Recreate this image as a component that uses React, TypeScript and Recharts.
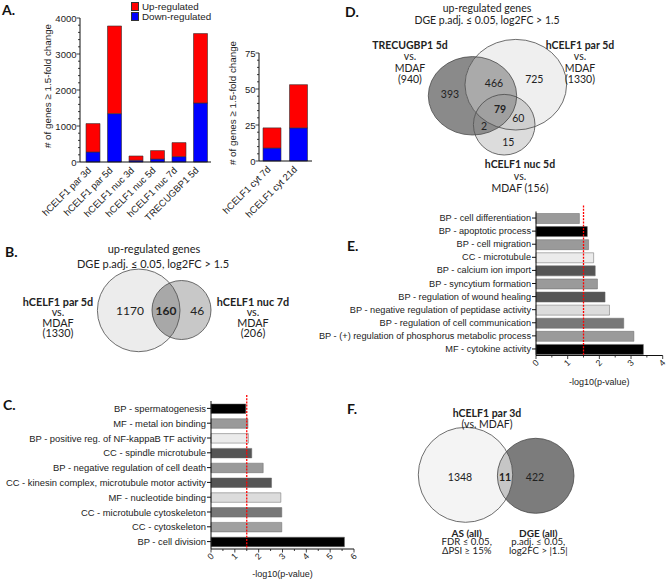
import React from 'react';
import { Bar, BarChart, Cell, Legend, ReferenceLine, Scatter, ScatterChart, XAxis, YAxis } from 'recharts';

const AXIS_FONT = '"Liberation Sans", Arial, sans-serif';
const VENN_FONT = 'Lato, "Open Sans", sans-serif';

// ---- Panel A data ----
const mainSamples = ['hCELF1 par 3d', 'hCELF1 par 5d', 'hCELF1 nuc 3d', 'hCELF1 nuc 5d', 'hCELF1 nuc 7d', 'TRECUGBP1 5d'];
const mainDown = [278, 1344, 47, 83, 150, 1639];
const mainUp = [789, 2434, 120, 234, 389, 1928];
const mainTicks = [0, 200, 400, 600, 800, 1000, 1200, 1400, 1600, 1800, 2000, 2200, 2400, 2600, 2800, 3000, 3200, 3400, 3600, 3800, 4000];

const cytSamples = ['hCELF1 cyt 7d', 'hCELF1 cyt 21d'];
const cytDown = [9, 23];
const cytUp = [14, 30];
const cytTicks = [0, 5, 10, 15, 20, 25, 30, 35, 40, 45, 50, 55, 60, 65, 70, 75];

const legendLabels = ['Up-regulated', 'Down-regulated'];

// ---- Panel C data ----
const cTerms = [
  'BP - spermatogenesis',
  'MF - metal ion binding',
  'BP - positive reg. of NF-kappaB TF activity',
  'CC - spindle microtubule',
  'BP - negative regulation of cell death',
  'CC - kinesin complex, microtubule motor activity',
  'MF - nucleotide binding',
  'CC - microtubule cytoskeleton',
  'CC - cytoskeleton',
  'BP - cell division',
];
const cValues = [1.46, 1.55, 1.57, 1.71, 2.19, 2.54, 2.93, 2.97, 2.97, 5.6];
const cColors = ['#000000', '#9a9a9a', '#ebebeb', '#555555', '#9a9a9a', '#555555', '#dcdcdc', '#787878', '#a0a0a0', '#000000'];
const cTicks = [0, 0.5, 1, 1.5, 2, 2.5, 3, 3.5, 4, 4.5, 5, 5.5, 6];

// ---- Panel E data ----
const eTerms = [
  'BP - cell differentiation',
  'BP - apoptotic process',
  'BP - cell migration',
  'CC - microtubule',
  'BP - calcium ion import',
  'BP - syncytium formation',
  'BP - regulation of wound healing',
  'BP - negative regulation of peptidase activity',
  'BP - regulation of cell communication',
  'BP - (+) regulation of phosphorus metabolic process',
  'MF - cytokine activity',
];
const eValues = [1.37, 1.62, 1.66, 1.82, 1.87, 1.94, 2.18, 2.32, 2.77, 3.09, 3.39];
const eColors = ['#9a9a9a', '#000000', '#9a9a9a', '#ebebeb', '#555555', '#9a9a9a', '#555555', '#dcdcdc', '#787878', '#9a9a9a', '#000000'];
const eTicks = [0, 0.5, 1, 1.5, 2, 2.5, 3, 3.5, 4];

const pThreshold = 1.5;

// ---- Venn data ----
const vennBSets = ['hCELF1 par 5d', 'hCELF1 nuc 7d'];
const vennBTotals = [1330, 206];
const vennBCounts = [1170, 160, 46];

const vennDSets = ['TRECUGBP1 5d', 'hCELF1 par 5d', 'hCELF1 nuc 5d'];
const vennDTotals = [940, 1330, 156];
// TRE only, TRE∩par, par only, all three, par∩nuc, TRE∩nuc, nuc only
const vennDCounts = [393, 466, 725, 79, 60, 2, 15];

const vennFSets = ['AS (all)', 'DGE (all)'];
const vennFCounts = [1348, 11, 422];

const mainData = mainSamples.map((name, i) => ({ name, down: mainDown[i], up: mainUp[i] }));
const cytData = cytSamples.map((name, i) => ({ name, down: cytDown[i], up: cytUp[i] }));
const cData = cTerms.map((term, i) => ({ term, value: cValues[i] }));
const eData = eTerms.map((term, i) => ({ term, value: eValues[i] }));

// ---------- axis helpers ----------
const makeCountTick = (majorStep: number) => (props: any) => {
  const { x, y, payload } = props;
  const major = payload.value % majorStep === 0;
  return (
    <g>
      <line x1={x - (major ? 3.5 : 2)} x2={x} y1={y} y2={y} stroke="#111" strokeWidth={0.8} />
      {major && (
        <text x={x - 3.5} y={y} textAnchor="end" dominantBaseline="central" fontSize={9.5} fontFamily={AXIS_FONT} fill="#222">
          {payload.value}
        </text>
      )}
    </g>
  );
};

const makeTermTick = (fontSize: number) => (props: any) => {
  const { x, y, payload } = props;
  return (
    <text x={x} y={y} textAnchor="end" dominantBaseline="central" fontSize={fontSize} fontFamily={AXIS_FONT} fill="#222">
      {payload.value}
    </text>
  );
};

const SampleTick = (props: any) => {
  const { x, y, payload } = props;
  const tx = x - 1;
  const ty = y + 9;
  return (
    <text x={tx} y={ty} transform={`rotate(-45, ${tx}, ${ty})`} textAnchor="end" fontSize={9.5} fontFamily={AXIS_FONT} fill="#222">
      {payload.value}
    </text>
  );
};

const PValueTick = (props: any) => {
  const { x, y, payload } = props;
  const major = Number.isInteger(payload.value);
  const tx = x - 0.5;
  const ty = y + 7.5;
  return (
    <g>
      <line x1={x} x2={x} y1={y} y2={y + (major ? 3.5 : 2)} stroke="#111" strokeWidth={0.8} />
      {major && (
        <text x={tx} y={ty} transform={`rotate(-45, ${tx}, ${ty})`} textAnchor="middle" dominantBaseline="central" fontSize={8.8} fontFamily={AXIS_FONT} fill="#222">
          {payload.value}
        </text>
      )}
    </g>
  );
};

const YTitle = (props: any) => {
  const { viewBox, offsetX, dy = 0, text } = props;
  if (!viewBox) return null;
  const cx = viewBox.x + offsetX;
  const cy = viewBox.y + viewBox.height / 2 + dy;
  return (
    <text x={cx} y={cy} transform={`rotate(-90, ${cx}, ${cy})`} textAnchor="middle" dominantBaseline="central" fontSize={9.8} fontFamily={AXIS_FONT} fill="#222">
      {text}
    </text>
  );
};

const XTitle = (props: any) => {
  const { viewBox, offsetY, text } = props;
  if (!viewBox) return null;
  return (
    <text x={viewBox.x + viewBox.width / 2} y={viewBox.y + offsetY} textAnchor="middle" dominantBaseline="central" fontSize={9} fontFamily={AXIS_FONT} fill="#222">
      {text}
    </text>
  );
};

const RefLineShape = (props: any) => {
  const { x1, y1, x2, y2 } = props;
  return <line x1={x1} x2={x2} y1={Math.min(y1, y2) - 6} y2={Math.max(y1, y2)} stroke="#ff0000" strokeWidth={1.3} strokeDasharray="2 1.2" />;
};

const RegulationLegend = () => {
  const colors = ['#ff0000', '#0000ff'];
  return (
    <div style={{ fontFamily: AXIS_FONT, fontSize: 9.8, color: '#222' }}>
      {legendLabels.map((label, i) => (
        <div key={label} style={{ display: 'flex', alignItems: 'center', height: 10.5 }}>
          <span style={{ width: 6, height: 7, background: colors[i], border: '0.5px solid #333', marginRight: 3 }} />
          <span>{label}</span>
        </div>
      ))}
    </div>
  );
};

// ---------- Venn helpers ----------
type Circle = { id: string; px: number; py: number; rx: number; ry: number; fill: string };
type Region = Circle & { clips: Circle[] };
type VennLabel = { px: number; py: number; text: string; bold?: boolean; size: number };

const CircleFill = (props: any) => {
  const { cx, cy, payload } = props;
  return <ellipse cx={cx} cy={cy} rx={payload.rx} ry={payload.ry} fill={payload.fill} />;
};

const CircleOutline = (props: any) => {
  const { cx, cy, payload } = props;
  return <ellipse cx={cx} cy={cy} rx={payload.rx} ry={payload.ry} fill="none" stroke="#4a4a4a" strokeWidth={0.8} />;
};

const RegionFill = (props: any) => {
  const { cx, cy, payload } = props;
  const dx = cx - payload.px;
  const dy = cy - payload.py;
  const clips: Circle[] = payload.clips;
  let node: React.ReactNode = <ellipse cx={cx} cy={cy} rx={payload.rx} ry={payload.ry} fill={payload.fill} />;
  clips.forEach((c) => {
    node = <g clipPath={`url(#${payload.id}-${c.id})`}>{node}</g>;
  });
  return (
    <g>
      <defs>
        {clips.map((c) => (
          <clipPath key={c.id} id={`${payload.id}-${c.id}`}>
            <ellipse cx={c.px + dx} cy={c.py + dy} rx={c.rx} ry={c.ry} />
          </clipPath>
        ))}
      </defs>
      {node}
    </g>
  );
};

const VennText = (props: any) => {
  const { cx, cy, payload } = props;
  return (
    <text x={cx} y={cy} textAnchor="middle" dominantBaseline="central" fontSize={payload.size} fontWeight={payload.bold ? 700 : 400} fontFamily={VENN_FONT} fill="#222">
      {payload.text}
    </text>
  );
};

interface VennProps {
  left: number;
  top: number;
  width: number;
  height: number;
  circles: Circle[];
  regions: Region[];
  labels: VennLabel[];
}

const VennChart: React.FC<VennProps> = ({ left, top, width, height, circles, regions, labels }) => (
  <div style={{ position: 'absolute', left, top }}>
    <ScatterChart width={width} height={height} margin={{ top: 0, right: 0, bottom: 0, left: 0 }}>
      <XAxis type="number" dataKey="px" domain={[left, left + width]} allowDataOverflow hide height={0} />
      <YAxis type="number" dataKey="py" domain={[top, top + height]} allowDataOverflow reversed hide width={0} />
      <Scatter data={circles} shape={CircleFill} isAnimationActive={false} />
      <Scatter data={regions} shape={RegionFill} isAnimationActive={false} />
      <Scatter data={circles} shape={CircleOutline} isAnimationActive={false} />
      <Scatter data={labels} shape={VennText} isAnimationActive={false} />
    </ScatterChart>
  </div>
);

const setLabel = (px: number, py: number, name: string, total: number, sep: number, size: number): VennLabel[] => [
  { px, py, text: name, bold: true, size },
  { px, py: py + sep, text: 'vs.', size },
  { px, py: py + sep * 2, text: 'MDAF', size },
  { px, py: py + sep * 3, text: `(${total})`, size },
];

// ---------- Venn B ----------
const VennB = () => {
  const big: Circle = { id: 'b1', px: 138.7, py: 310.4, rx: 41.3, ry: 41.3, fill: '#ececec' };
  const small: Circle = { id: 'b2', px: 181.5, py: 310, rx: 29.5, ry: 29.5, fill: '#c8c8c8' };
  const regions: Region[] = [{ ...small, id: 'bx', fill: '#a8a8a8', clips: [big] }];
  const labels: VennLabel[] = [
    { px: 154, py: 248, text: 'up-regulated genes', size: 11 },
    { px: 153, py: 263, text: 'DGE p.adj. ≤ 0.05, log2FC > 1.5', size: 11 },
    ...setLabel(58, 301.5, vennBSets[0], vennBTotals[0], 10.4, 10.8),
    ...setLabel(253, 301.5, vennBSets[1], vennBTotals[1], 10.4, 10.8),
    { px: 130, py: 310.7, text: String(vennBCounts[0]), size: 12 },
    { px: 166, py: 310.7, text: String(vennBCounts[1]), bold: true, size: 12 },
    { px: 197.3, py: 310.7, text: String(vennBCounts[2]), size: 12 },
  ];
  return <VennChart left={0} top={240} width={330} height={120} circles={[big, small]} regions={regions} labels={labels} />;
};

// ---------- Venn D ----------
const VennD = () => {
  const tre: Circle = { id: 'd1', px: 472.5, py: 95.8, rx: 44.2, ry: 39.2, fill: '#8a8a8a' };
  const par: Circle = { id: 'd2', px: 515.8, py: 84.7, rx: 50.8, ry: 45.3, fill: '#efefef' };
  const nuc: Circle = { id: 'd3', px: 504.2, py: 124.7, rx: 30.8, ry: 30.3, fill: '#dcdcdc' };
  const regions: Region[] = [
    { ...par, id: 'd12', fill: '#aaaaaa', clips: [tre] },
    { ...nuc, id: 'd23', fill: '#cfcfcf', clips: [par] },
    { ...nuc, id: 'd13', fill: '#8c8c8c', clips: [tre] },
    { ...nuc, id: 'd123', fill: '#a0a0a0', clips: [tre, par] },
  ];
  const labels: VennLabel[] = [
    { px: 487, py: 8.3, text: 'up-regulated genes', size: 10.5 },
    { px: 487, py: 20, text: 'DGE p.adj. ≤ 0.05, log2FC > 1.5', size: 10.5 },
    ...setLabel(410, 45, vennDSets[0], vennDTotals[0], 11.4, 10.5),
    ...setLabel(580, 45, vennDSets[1], vennDTotals[1], 11.4, 10.5),
    { px: 520, py: 164, text: vennDSets[2], bold: true, size: 10.5 },
    { px: 520, py: 175.5, text: 'vs.', size: 10.5 },
    { px: 520, py: 188, text: `MDAF (${vennDTotals[2]})`, size: 10.5 },
    { px: 450, py: 94.3, text: String(vennDCounts[0]), size: 10.5 },
    { px: 494, py: 83.3, text: String(vennDCounts[1]), size: 10.5 },
    { px: 534.3, py: 79, text: String(vennDCounts[2]), size: 10.5 },
    { px: 500, py: 109.3, text: String(vennDCounts[3]), bold: true, size: 10.5 },
    { px: 518.3, py: 118.3, text: String(vennDCounts[4]), size: 10.5 },
    { px: 484, py: 126, text: String(vennDCounts[5]), size: 10.5 },
    { px: 508.3, py: 141.7, text: String(vennDCounts[6]), size: 10.5 },
  ];
  return <VennChart left={340} top={0} width={326} height={200} circles={[tre, par, nuc]} regions={regions} labels={labels} />;
};

// ---------- Venn F ----------
const VennF = () => {
  const as: Circle = { id: 'f1', px: 465.5, py: 474.8, rx: 47.2, ry: 47.5, fill: '#f4f4f4' };
  const dge: Circle = { id: 'f2', px: 535.7, py: 475.8, rx: 38.3, ry: 37.5, fill: '#7c7c7c' };
  const regions: Region[] = [{ ...dge, id: 'f12', fill: '#c6c6c6', clips: [as] }];
  const labels: VennLabel[] = [
    { px: 487, py: 413, text: 'hCELF1 par 3d', bold: true, size: 10.5 },
    { px: 487, py: 424, text: '(vs. MDAF)', size: 10.5 },
    { px: 460, py: 476.7, text: String(vennFCounts[0]), size: 10.5 },
    { px: 505, py: 476.7, text: String(vennFCounts[1]), bold: true, size: 10.5 },
    { px: 535, py: 476.7, text: String(vennFCounts[2]), size: 10.5 },
    { px: 466.7, py: 532.5, text: vennFSets[0], bold: true, size: 10 },
    { px: 466.7, py: 541.8, text: 'FDR ≤ 0.05,', size: 9.6 },
    { px: 466.7, py: 550.8, text: 'ΔPSI ≥ 15%', size: 9.6 },
    { px: 538.3, py: 532.5, text: vennFSets[1], bold: true, size: 10 },
    { px: 538.3, py: 541.8, text: 'p.adj. ≤ 0.05,', size: 9.6 },
    { px: 538.3, py: 550.8, text: 'log2FC > |1.5|', size: 9.6 },
  ];
  return <VennChart left={340} top={400} width={326} height={180} circles={[as, dge]} regions={regions} labels={labels} />;
};

const PanelLetter: React.FC<{ letter: string; left: number; top: number }> = ({ letter, left, top }) => (
  <div style={{ position: 'absolute', left, top, fontFamily: VENN_FONT, fontWeight: 700, fontSize: 14, lineHeight: '14px', color: '#111' }}>
    {letter}
  </div>
);

const App: React.FC = () => {
  return (
    <div style={{ position: 'absolute', left: 0, top: 0, width: 666, height: 580, background: '#fff', overflow: 'hidden' }}>
      <style>{'.recharts-surface { overflow: visible; }'}</style>
      {/* A - main samples */}
      <div style={{ position: 'absolute', left: 0, top: 0 }}>
        <BarChart width={215} height={222} data={mainData} margin={{ top: 18, right: 4, bottom: 0, left: 0 }}>
          <XAxis dataKey="name" height={60} interval={0} tick={<SampleTick />} tickLine={false} tickSize={0} tickMargin={0} axisLine={{ stroke: '#111' }} padding={{ left: 2, right: 0 }} />
          <YAxis
            type="number"
            domain={[0, 4000]}
            ticks={mainTicks}
            interval={0}
            width={80}
            tick={makeCountTick(1000)}
            tickLine={false}
            tickSize={0}
            tickMargin={0}
            axisLine={{ stroke: '#111' }}
            label={<YTitle offsetX={47} dy={-4} text="# of genes ≥ 1.5-fold change" />}
          />
          <Legend layout="vertical" align="center" verticalAlign="middle" content={<RegulationLegend />} wrapperStyle={{ left: 131, top: 1, width: 90, height: 24 }} />
          <Bar dataKey="down" stackId="reg" fill="#0000ff" stroke="#333" strokeWidth={0.6} barSize={14} isAnimationActive={false} />
          <Bar dataKey="up" stackId="reg" fill="#ff0000" stroke="#333" strokeWidth={0.6} barSize={14} isAnimationActive={false} />
        </BarChart>
      </div>

      {/* A - cytoplasmic samples */}
      <div style={{ position: 'absolute', left: 215, top: 0 }}>
        <BarChart width={101} height={221} data={cytData} margin={{ top: 53, right: 4, bottom: 0, left: 0 }}>
          <XAxis dataKey="name" height={60} interval={0} tick={<SampleTick />} tickLine={false} tickSize={0} tickMargin={0} axisLine={{ stroke: '#111' }} />
          <YAxis
            type="number"
            domain={[0, 75]}
            ticks={cytTicks}
            interval={0}
            width={44}
            tick={makeCountTick(25)}
            tickLine={false}
            tickSize={0}
            tickMargin={0}
            axisLine={{ stroke: '#111' }}
            label={<YTitle offsetX={17} dy={-4} text="# of genes ≥ 1.5-fold change" />}
          />
          <Bar dataKey="down" stackId="reg" fill="#0000ff" stroke="#333" strokeWidth={0.6} barSize={18} isAnimationActive={false} />
          <Bar dataKey="up" stackId="reg" fill="#ff0000" stroke="#333" strokeWidth={0.6} barSize={18} isAnimationActive={false} />
        </BarChart>
      </div>

      {/* C */}
      <div style={{ position: 'absolute', left: 0, top: 390 }}>
        <BarChart layout="vertical" width={370} height={190} data={cData} margin={{ top: 11, right: 16, bottom: 0, left: 0 }}>
          <XAxis
            type="number"
            domain={[0, 6]}
            ticks={cTicks}
            interval={0}
            height={31}
            tick={<PValueTick />}
            tickLine={false}
            tickSize={0}
            tickMargin={0}
            axisLine={{ stroke: '#111' }}
            label={<XTitle offsetY={25} text="-log10(p-value)" />}
          />
          <YAxis
            type="category"
            dataKey="term"
            width={211}
            interval={0}
            tickSize={4}
            tickMargin={1}
            tickLine={{ stroke: '#111' }}
            axisLine={{ stroke: '#111' }}
            tick={makeTermTick(9.4)}
          />
          <Bar dataKey="value" barSize={9.5} stroke="#666" strokeWidth={0.5} isAnimationActive={false}>
            {cData.map((d, i) => (
              <Cell key={d.term} fill={cColors[i]} />
            ))}
          </Bar>
          <ReferenceLine x={pThreshold} stroke="#ff0000" strokeDasharray="2 1.2" shape={<RefLineShape />} />
        </BarChart>
      </div>

      {/* E */}
      <div style={{ position: 'absolute', left: 340, top: 200 }}>
        <BarChart layout="vertical" width={326} height={190} data={eData} margin={{ top: 11.5, right: 3.3, bottom: 0, left: 0 }}>
          <XAxis
            type="number"
            domain={[0, 4]}
            ticks={eTicks}
            interval={0}
            height={34.5}
            tick={<PValueTick />}
            tickLine={false}
            tickSize={0}
            tickMargin={0}
            axisLine={{ stroke: '#111' }}
            label={<XTitle offsetY={26} text="-log10(p-value)" />}
          />
          <YAxis
            type="category"
            dataKey="term"
            width={196}
            interval={0}
            tickSize={4}
            tickMargin={1}
            tickLine={{ stroke: '#111' }}
            axisLine={{ stroke: '#111' }}
            tick={makeTermTick(9.2)}
          />
          <Bar dataKey="value" barSize={10} stroke="#666" strokeWidth={0.5} isAnimationActive={false}>
            {eData.map((d, i) => (
              <Cell key={d.term} fill={eColors[i]} />
            ))}
          </Bar>
          <ReferenceLine x={pThreshold} stroke="#ff0000" strokeDasharray="2 1.2" shape={<RefLineShape />} />
        </BarChart>
      </div>

      <VennB />
      <VennD />
      <VennF />

      <PanelLetter letter="A." left={2} top={3} />
      <PanelLetter letter="B." left={5} top={245} />
      <PanelLetter letter="C." left={3} top={398} />
      <PanelLetter letter="D." left={345} top={5} />
      <PanelLetter letter="E." left={347} top={239} />
      <PanelLetter letter="F." left={347} top={402} />
    </div>
  );
};

export default App;
